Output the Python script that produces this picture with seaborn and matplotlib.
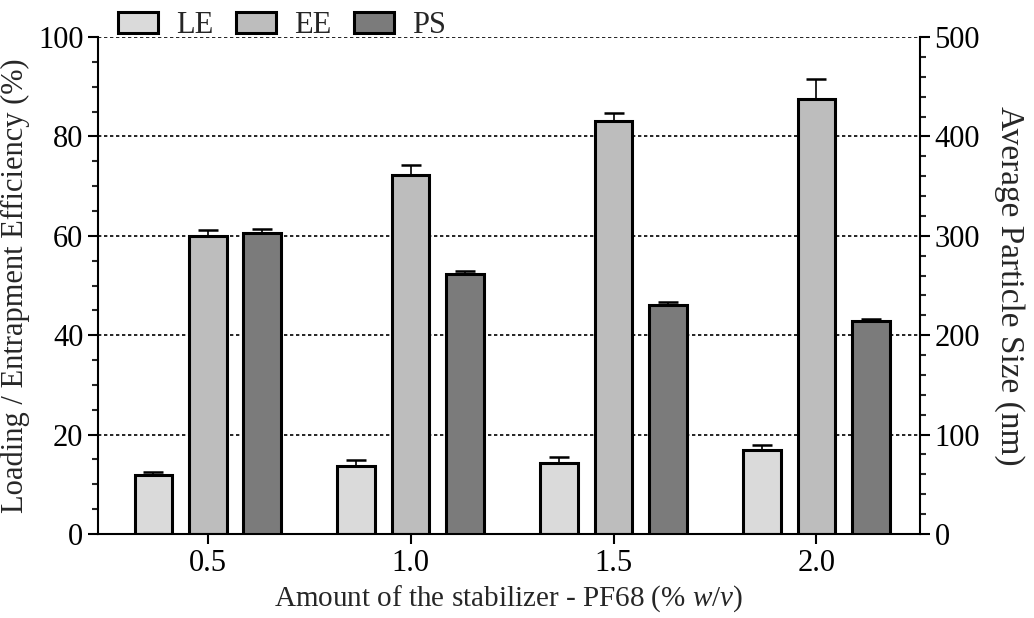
import numpy as np
import pandas as pd
import matplotlib
matplotlib.use("Agg")
import matplotlib.pyplot as plt
import seaborn as sns
from matplotlib.patches import Patch
from matplotlib.ticker import MultipleLocator

# ---------------- data ----------------
concentrations = ["0.5", "1.0", "1.5", "2.0"]
series = ["LE", "EE", "PS"]
le_mean = [11.9, 13.7, 14.3, 16.9]
le_err = [0.6, 1.2, 1.1, 1.0]
ee_mean = [60.0, 72.2, 83.2, 87.5]
ee_err = [1.2, 2.0, 1.5, 4.0]
ps_mean = [302.5, 261.5, 230.5, 214.0]
ps_err = [4.5, 3.0, 3.0, 2.0]
colors = {"LE": "#dadada", "EE": "#bdbdbd", "PS": "#7b7b7b"}
left_series = ["LE", "EE"]
right_series = ["PS"]

rows = []
for name, means, errs in [("LE", le_mean, le_err), ("EE", ee_mean, ee_err), ("PS", ps_mean, ps_err)]:
    for c, m, e in zip(concentrations, means, errs):
        rows.append({"conc": c, "series": name, "value": m, "err": e})
df = pd.DataFrame(rows)

# ---------------- style ----------------
sns.set_theme(style="ticks")
plt.rcParams["font.family"] = ["Liberation Serif", "DejaVu Serif"]
plt.rcParams["mathtext.fontset"] = "custom"
plt.rcParams["mathtext.rm"] = "Liberation Serif"
plt.rcParams["mathtext.it"] = "Liberation Serif:italic"
plt.rcParams["axes.linewidth"] = 1.5

FS = 22
fig, ax = plt.subplots(figsize=(10.34, 6.18), dpi=100)
fig.subplots_adjust(left=0.0948, right=0.8897, bottom=0.136, top=0.940)

bar_kw = dict(x="conc", y="value", hue="series", hue_order=series, order=concentrations,
              palette=colors, width=0.8, gap=0.3, edgecolor="black", linewidth=2.2,
              errorbar=None, saturation=1, legend=False)

# all series are laid out (dodged) on both axes; each axis shows only its own series
sns.barplot(data=df, ax=ax, **bar_kw)
ax2 = ax.twinx()
sns.barplot(data=df, ax=ax2, **bar_kw)


def keep_series(axis, names):
    conts = [c for c in axis.containers if len(c.patches) > 0]
    for cont, name in zip(conts, series):
        if name not in names:
            for p in cont.patches:
                p.set_visible(False)
            continue
        sub = df[df["series"] == name].set_index("conc").loc[concentrations]
        pts = sorted(cont.patches, key=lambda p: p.get_x())
        xs = [p.get_x() + p.get_width() / 2 for p in pts]
        hs = [p.get_height() for p in pts]
        errs = sub["err"].values
        axis.errorbar(xs, hs, yerr=[np.zeros(len(errs)), errs], fmt="none",
                      ecolor="black", elinewidth=1.2, capsize=7, capthick=1.8, zorder=3)


keep_series(ax, left_series)
keep_series(ax2, right_series)

# ---------------- axes ----------------
ax.set_xlim(-0.54, 3.51)
ax.set_ylim(0, 100)
ax2.set_ylim(0, 500)
ax.yaxis.set_major_locator(MultipleLocator(20))
ax.yaxis.set_minor_locator(MultipleLocator(5))
ax2.yaxis.set_major_locator(MultipleLocator(100))
ax2.yaxis.set_minor_locator(MultipleLocator(20))

ax.yaxis.grid(True, which="major", linestyle=(0, (2, 1.6)), color="black", linewidth=1.2)
ax.xaxis.grid(False)
ax2.grid(False)
ax.set_axisbelow(True)

for a in (ax, ax2):
    a.tick_params(axis="both", which="major", length=7, width=1.5, direction="out",
                  labelsize=FS, colors="black")
    a.tick_params(axis="y", which="minor", length=4.5, width=1.5, direction="out")
    a.spines["top"].set_visible(False)
ax.spines["right"].set_visible(False)
ax2.spines["left"].set_visible(False)
ax2.spines["bottom"].set_visible(False)
for s in ax.spines.values():
    s.set_color("black")
ax2.spines["right"].set_color("black")

ax.set_xticks(range(len(concentrations)))
ax.set_xticklabels(concentrations)
ax.set_xlabel(r"Amount of the stabilizer - PF68 (% $\mathit{w/v}$)", fontsize=21, labelpad=4)
ax.set_ylabel("Loading / Entrapment Efficiency (%)", fontsize=22, labelpad=6)
ax2.set_ylabel("Average Particle Size (nm)", fontsize=24, rotation=-90, va="bottom", labelpad=10)

handles = [Patch(facecolor=colors[s], edgecolor="black", linewidth=2.2) for s in series]
fig.legend(handles, series, loc="center left", bbox_to_anchor=(0.114, 0.958), ncol=3,
           frameon=False, fontsize=22, handlelength=1.3, handleheight=0.68,
           handletextpad=0.6, columnspacing=0.75, borderpad=0, borderaxespad=0)

fig.savefig("out.png", dpi=100)
